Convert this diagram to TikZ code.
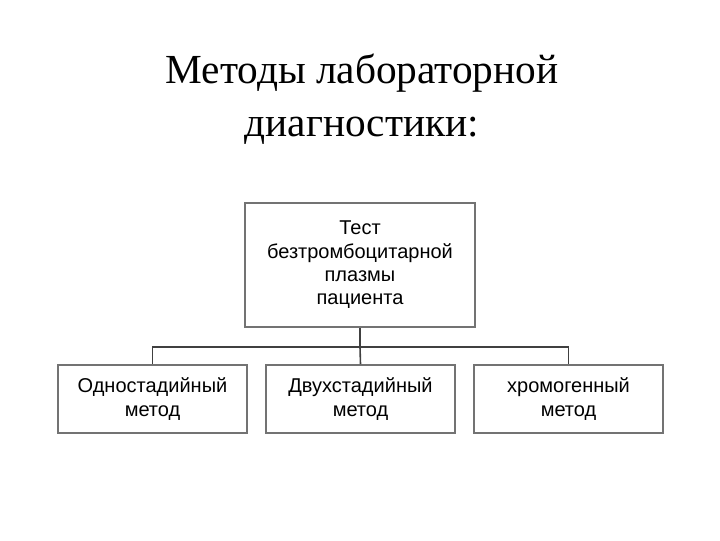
\documentclass[tikz,border=0pt]{standalone}
\usepackage{fontspec}
\setmainfont{Liberation Serif}
\newfontfamily\boxfont{Liberation Sans}
\begin{document}
\begin{tikzpicture}[x=0.75pt,y=-0.75pt,
  bx/.style={draw=black!55,line width=1.2pt,align=center,font=\boxfont\fontsize{15}{17.5}\selectfont,inner sep=0pt},
  ln/.style={draw=black!75,line width=1.2pt}]
\useasboundingbox (0,0) rectangle (720,540);
\node[align=center,font=\fontsize{31}{40}\selectfont] (title) at (362,99) {Методы лабораторной\\диагностики:};
\node[bx,minimum width=230*0.75pt,minimum height=124*0.75pt] (top) at (360,265) {Тест\\безтромбоцитарной\\плазмы\\пациента};
\node[bx,minimum width=189*0.75pt,minimum height=68*0.75pt] (b1) at (152.5,399) {Одностадийный\\метод};
\node[bx,minimum width=189*0.75pt,minimum height=68*0.75pt] (b2) at (360.5,399) {Двухстадийный\\метод};
\node[bx,minimum width=189*0.75pt,minimum height=68*0.75pt] (b3) at (568.5,399) {хромогенный\\метод};
\coordinate (j) at (360,347);
\draw[ln] (top.south) -- (j);
\draw[ln] (b1.north) |- (j) -| (b3.north);
\draw[ln] (j) -- (b2.north);
\end{tikzpicture}
\end{document}
